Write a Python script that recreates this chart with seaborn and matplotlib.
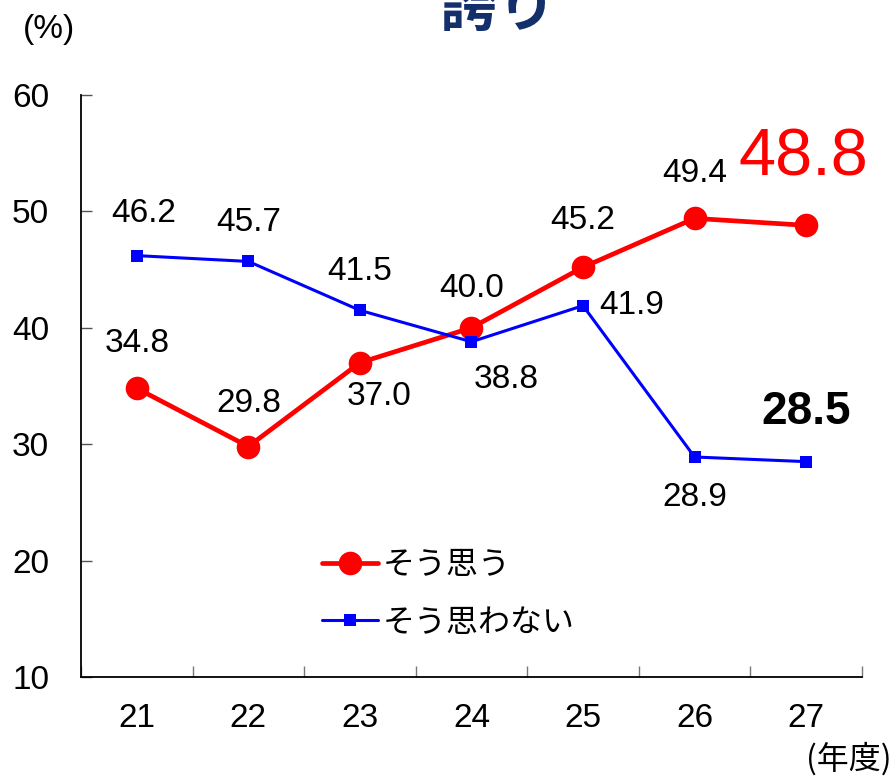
import numpy as np
import pandas as pd
import matplotlib
matplotlib.use("Agg")
import matplotlib.pyplot as plt
import seaborn as sns

sns.set_theme(style="white")
plt.rcParams['font.family'] = ['Liberation Sans', 'Noto Sans CJK JP', 'DejaVu Sans']
plt.rcParams['text.color'] = 'black'
plt.rcParams['xtick.color'] = 'black'
plt.rcParams['ytick.color'] = 'black'

years = ['21', '22', '23', '24', '25', '26', '27']
agree = [34.8, 29.8, 37.0, 40.0, 45.2, 49.4, 48.8]
disagree = [46.2, 45.7, 41.5, 38.8, 41.9, 28.9, 28.5]
series_names = ['そう思う', 'そう思わない']

pos = np.arange(len(years))
df = pd.DataFrame({'pos': pos, 'agree': agree, 'disagree': disagree})

fig = plt.figure(figsize=(8.95, 7.76), dpi=100)
ax = fig.add_axes([0.0905, 0.1276, 0.8725, 0.75])

sns.lineplot(data=df, x='pos', y='agree', ax=ax, color='#ff0000', linewidth=3.4,
             marker='o', markersize=17, markeredgewidth=0, label=series_names[0])
sns.lineplot(data=df, x='pos', y='disagree', ax=ax, color='#0000ff', linewidth=2.2,
             marker='s', markersize=8.5, markeredgewidth=0, label=series_names[1])

ax.set_xlim(-0.5, len(years) - 0.5)
ax.set_ylim(10, 60)
ax.set_yticks([10, 20, 30, 40, 50, 60])
ax.set_xticks(pos)
ax.set_xticklabels(years)
ax.set_xticks(np.arange(len(years) + 1) - 0.5, minor=True)
ax.set_xlabel('')
ax.set_ylabel('')
for s in ['top', 'right']:
    ax.spines[s].set_visible(False)
for s in ['left', 'bottom']:
    ax.spines[s].set_color('black')
    ax.spines[s].set_linewidth(1.3)
ax.tick_params(axis='y', direction='in', length=8, width=1, color='#555555',
               labelsize=24, pad=23, left=True)
ax.tick_params(axis='x', which='major', length=0, labelsize=24, pad=19)
ax.tick_params(axis='x', which='minor', direction='in', length=8, width=1,
               color='#777777', bottom=True)

# value labels (offsets in points)
agree_off = [(0, 32), (0, 31), (14, -24), (0, 28), (0, 34), (0, 32), (-2, 48)]
dis_off = [(5, 30), (0, 28), (0, 28), (25, -27), (35, 0), (0, -29), (0, 36)]
for i, v in enumerate(agree):
    if i == len(agree) - 1:
        ax.annotate(f'{v:.1f}', (pos[i], v), xytext=agree_off[i], textcoords='offset points',
                    ha='center', va='center', fontsize=48, color='#ff0000')
    else:
        ax.annotate(f'{v:.1f}', (pos[i], v), xytext=agree_off[i], textcoords='offset points',
                    ha='center', va='center', fontsize=24, color='black')
for i, v in enumerate(disagree):
    if i == len(disagree) - 1:
        ax.annotate(f'{v:.1f}', (pos[i], v), xytext=dis_off[i], textcoords='offset points',
                    ha='center', va='center', fontsize=33, fontweight='semibold', color='black')
    else:
        ax.annotate(f'{v:.1f}', (pos[i], v), xytext=dis_off[i], textcoords='offset points',
                    ha='center', va='center', fontsize=24, color='black')

leg = ax.legend(loc='center left', bbox_to_anchor=(0.272, 0.143), frameon=False,
                handlelength=1.75, handletextpad=0.15, labelspacing=0.8,
                prop={'family': ['Noto Sans CJK JP'], 'size': 23})

fig.text(0.055, 0.962, '(%)', ha='center', va='center', fontsize=24)
fig.text(0.948, 0.022, '(年度)', ha='center', va='center', fontsize=23,
         family=['Noto Sans CJK JP'])
fig.text(0.556, 0.967, '誇り', ha='center', va='baseline', fontsize=42,
         fontweight='bold', color='#13306b', family=['Noto Sans CJK JP'])

fig.savefig('out.png', dpi=100)
